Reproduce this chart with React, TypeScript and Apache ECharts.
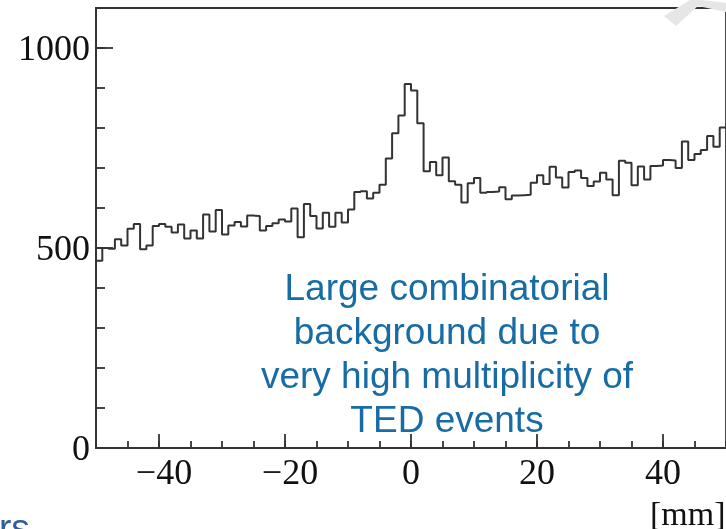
import React, { useEffect, useRef } from "react";
import * as echarts from "echarts";

// Histogram binning: 100 bins of 1 mm from -50 to +50
const X_MIN = -50;
const X_MAX = 50;
const BIN_WIDTH = 1;

// Entries per bin
const counts = [
  468, 500, 498, 522, 506, 548, 560, 497, 506, 555,
  560, 553, 539, 559, 524, 544, 524, 584, 541, 595,
  534, 556, 565, 554, 581, 580, 544, 555, 562, 571,
  566, 599, 527, 610, 580, 549, 588, 553, 588, 564,
  596, 640, 642, 624, 638, 658, 724, 787, 831, 910,
  894, 812, 692, 715, 682, 726, 667, 658, 614, 662,
  675, 638, 640, 641, 652, 622, 631, 632, 633, 663,
  682, 660, 703, 676, 651, 690, 694, 675, 655, 666,
  688, 671, 632, 718, 713, 657, 704, 671, 705, 706,
  720, 719, 700, 766, 720, 735, 745, 780, 753, 801,
];

const Y_MAX = 1100;
const xMajorTicks = [-40, -20, 0, 20, 40];
const yMajorTicks = [0, 500, 1000];
const xUnit = "[mm]";
const noteLines = [
  "Large combinatorial",
  "background due to",
  "very high multiplicity of",
  "TED events",
];
const footerFragment = "rs";

const INK = "#333333";
const LABEL = "#111111";
const SERIF = '"Liberation Serif", "DejaVu Serif", serif';
const SANS = '"Liberation Sans", Arial, sans-serif';

export default function App() {
  const ref = useRef<HTMLDivElement>(null);

  useEffect(() => {
    document.body.style.margin = "0";
    const chart = echarts.init(ref.current!, null, { renderer: "svg" });

    // step outline: one point at every bin's lower edge plus the closing edge
    const steps: number[][] = counts.map((c, i) => [X_MIN + i * BIN_WIDTH, c]);
    steps.push([X_MIN + counts.length * BIN_WIDTH, counts[counts.length - 1]]);

    const lineStyle = { color: INK, width: 1.8 };
    const tickFont = { fontFamily: SERIF, fontSize: 36, color: LABEL };

    chart.setOption({
      animation: false,
      grid: {
        left: 96,
        top: 8,
        width: 633,
        height: 440,
        show: true,
        borderColor: INK,
        borderWidth: 1.8,
        backgroundColor: "transparent",
      },
      xAxis: [
        {
          type: "value",
          min: X_MIN,
          max: X_MAX,
          position: "bottom",
          axisLine: { show: true, onZero: false, lineStyle },
          axisTick: { show: true, inside: true, length: 14, customValues: xMajorTicks, lineStyle },
          axisLabel: {
            show: true,
            customValues: xMajorTicks,
            margin: 6,
            ...tickFont,
            formatter: (v: number) => (v < 0 ? `{n|\u2212${-v}}` : `{p|${v}}`),
            rich: {
              n: { ...tickFont, padding: [0, 0, 0, 10] },
              p: { ...tickFont },
            },
          },
          splitLine: { show: false },
        },
        {
          type: "value",
          min: X_MIN,
          max: X_MAX,
          interval: 5,
          position: "bottom",
          axisLine: { show: false, onZero: false },
          axisTick: { show: true, inside: true, length: 7, lineStyle },
          axisLabel: { show: false },
          splitLine: { show: false },
        },
      ],
      yAxis: [
        {
          type: "value",
          min: 0,
          max: Y_MAX,
          position: "left",
          axisLine: { show: true, onZero: false, lineStyle },
          axisTick: { show: true, inside: true, length: 17, customValues: yMajorTicks, lineStyle },
          axisLabel: {
            show: true,
            customValues: yMajorTicks,
            margin: 6,
            ...tickFont,
            formatter: (v: number) => String(v),
          },
          splitLine: { show: false },
        },
        {
          type: "value",
          min: 0,
          max: Y_MAX,
          interval: 100,
          position: "left",
          axisLine: { show: false, onZero: false },
          axisTick: { show: true, inside: true, length: 9, lineStyle },
          axisLabel: { show: false },
          splitLine: { show: false },
        },
      ],
      series: [
        {
          type: "line",
          xAxisIndex: 0,
          yAxisIndex: 0,
          data: steps,
          step: "end",
          symbol: "none",
          lineStyle: { color: INK, width: 2 },
        },
      ],
      graphic: [
        {
          type: "text",
          x: 447,
          y: 265,
          z: 50,
          style: {
            text: noteLines.join("\n"),
            fontFamily: SANS,
            fontSize: 37,
            lineHeight: 44,
            fill: "#176ca6",
            align: "center",
            verticalAlign: "top",
          },
        },
        {
          type: "text",
          x: 650,
          y: 513,
          z: 50,
          style: {
            text: xUnit,
            fontFamily: SERIF,
            fontSize: 34,
            fill: LABEL,
            align: "left",
            verticalAlign: "middle",
          },
        },
        {
          type: "text",
          x: -1,
          y: 527,
          z: 50,
          style: {
            text: footerFragment,
            fontFamily: SANS,
            fontSize: 37,
            fill: "#2f5f98",
            align: "left",
            verticalAlign: "middle",
          },
        },
        {
          type: "polygon",
          z: 100,
          shape: {
            points: [
              [664, 16],
              [676, 26],
              [698, 6],
              [726, 12],
              [726, 3],
              [702, 0],
              [690, 0],
            ],
          },
          style: { fill: "#e6e6e6" },
        },
      ],
    });

    return () => chart.dispose();
  }, []);

  return (
    <div
      ref={ref}
      style={{ position: "fixed", left: 0, top: 0, width: 726, height: 529 }}
    />
  );
}
